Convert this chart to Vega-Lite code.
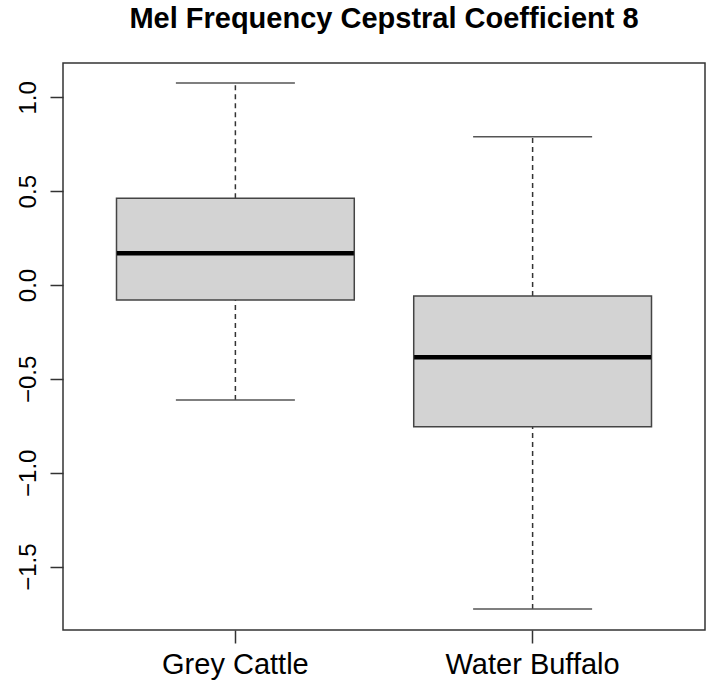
{
  "$schema": "https://vega.github.io/schema/vega-lite/v6.json",
  "autosize": "none",
  "width": 642,
  "height": 567,
  "padding": {"left": 63, "top": 63, "right": 4, "bottom": 53},
  "background": "white",
  "title": {
    "text": "Mel Frequency Cepstral Coefficient 8",
    "font": "Liberation Sans",
    "fontSize": 29,
    "fontWeight": "bold",
    "color": "black",
    "anchor": "middle",
    "frame": "group",
    "baseline": "bottom",
    "offset": 0
  },
  "data": {
    "values": [
      {"group": "Grey Cattle", "lower": -0.613, "q1": -0.08, "median": 0.169, "q3": 0.462, "upper": 1.076},
      {"group": "Water Buffalo", "lower": -1.726, "q1": -0.755, "median": -0.385, "q3": -0.059, "upper": 0.79}
    ]
  },
  "encoding": {
    "x": {
      "field": "group",
      "type": "nominal",
      "sort": null,
      "title": null,
      "scale": {"paddingInner": 0.2, "paddingOuter": 0.18},
      "axis": {"labelAngle": 0, "labelFontSize": 29, "labelPadding": 7, "bandPosition": 0.5}
    }
  },
  "layer": [
    {
      "mark": {"type": "rule", "stroke": "#333", "strokeWidth": 1.5, "strokeDash": [5, 4], "opacity": 1},
      "encoding": {
        "y": {
          "field": "q3",
          "type": "quantitative",
          "title": null,
          "scale": {"domain": [-1.838, 1.183], "nice": false, "zero": false},
          "axis": {
            "values": [-1.5, -1, -0.5, 0, 0.5, 1],
            "format": ".1f",
            "labelAngle": 270,
            "labelAlign": "center",
            "labelBaseline": "alphabetic",
            "labelFontSize": 24,
            "labelPadding": 15,
            "labelFlush": false
          }
        },
        "y2": {"field": "upper"}
      }
    },
    {
      "mark": {"type": "rule", "stroke": "#333", "strokeWidth": 1.5, "strokeDash": [5, 4], "opacity": 1},
      "encoding": {
        "y": {"field": "lower", "type": "quantitative"},
        "y2": {"field": "q1"}
      }
    },
    {
      "mark": {"type": "tick", "color": "#555", "size": 119, "thickness": 1.5, "opacity": 1},
      "encoding": {"y": {"field": "upper", "type": "quantitative"}}
    },
    {
      "mark": {"type": "tick", "color": "#555", "size": 119, "thickness": 1.5, "opacity": 1},
      "encoding": {"y": {"field": "lower", "type": "quantitative"}}
    },
    {
      "mark": {"type": "bar", "fill": "#d3d3d3", "stroke": "#444", "strokeWidth": 1.5, "opacity": 1},
      "encoding": {
        "y": {"field": "q1", "type": "quantitative"},
        "y2": {"field": "q3"}
      }
    },
    {
      "mark": {"type": "tick", "color": "black", "size": 237, "thickness": 4.5, "opacity": 1},
      "encoding": {"y": {"field": "median", "type": "quantitative"}}
    }
  ],
  "config": {
    "font": "Liberation Sans",
    "view": {"stroke": "#333", "strokeWidth": 1.5},
    "axis": {
      "domain": false,
      "grid": false,
      "ticks": true,
      "tickSize": 13,
      "tickColor": "#333",
      "tickWidth": 1.5,
      "labelColor": "black",
      "labelFont": "Liberation Sans"
    }
  }
}
